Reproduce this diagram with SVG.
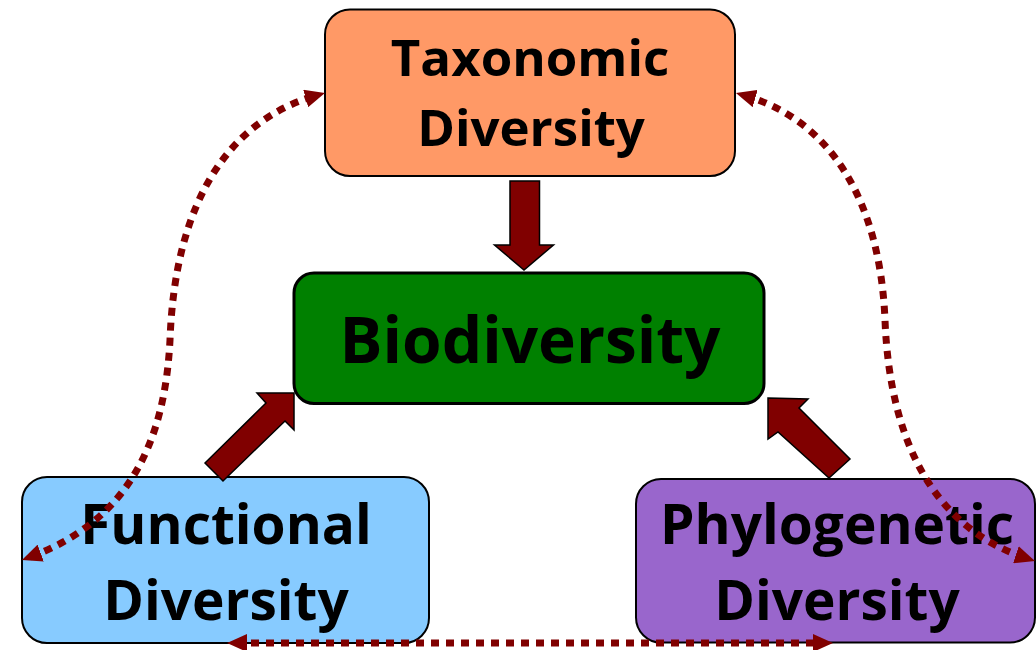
<svg xmlns="http://www.w3.org/2000/svg" width="1036" height="650" viewBox="0 0 1036 650">
<style>
.box{stroke:#000;stroke-width:2}
.lbl{font-family:"Open Sans","Noto Sans","Liberation Sans",sans-serif;font-weight:700;fill:#000;text-anchor:middle}
.blk{fill:#800000;stroke:#000;stroke-width:1.5;stroke-linejoin:miter}
.dot{fill:none;stroke:#800000;stroke-width:7;stroke-dasharray:8 7;marker-start:url(#ah);marker-end:url(#ah)}
</style>
<defs>
<marker id="ah" markerUnits="userSpaceOnUse" markerWidth="20" markerHeight="18" refX="11" refY="9" orient="auto-start-reverse" viewBox="0 0 20 18">
<path d="M0,0 L20,9 L0,18 z" fill="#800000"/>
</marker>
</defs>
<rect width="1036" height="650" fill="#fff"/>
<g id="taxonomic">
<rect class="box" x="325" y="9.5" width="410" height="166.5" rx="25" fill="#FF9966"/>
<text class="lbl" x="530" y="76" font-size="51">Taxonomic</text>
<text class="lbl" x="531" y="146" font-size="51">Diversity</text>
</g>
<g id="biodiversity">
<rect x="294" y="273" width="470" height="130.5" rx="20" fill="#008000" stroke="#000" stroke-width="3"/>
<text class="lbl" x="530" y="363" font-size="64">Biodiversity</text>
</g>
<g id="functional">
<rect class="box" x="22" y="477" width="407" height="166" rx="25" fill="#87CBFF"/>
<text class="lbl" x="226" y="544" font-size="55">Functional</text>
<text class="lbl" x="226" y="620" font-size="55">Diversity</text>
</g>
<g id="phylogenetic">
<rect class="box" x="636" y="479" width="399" height="163.5" rx="25" fill="#9966CC"/>
<text class="lbl" x="837" y="544" font-size="55">Phylogenetic</text>
<text class="lbl" x="837" y="620" font-size="55">Diversity</text>
</g>
<g id="connectors">
<polygon class="blk" points="510,181 539.5,181 539.5,245 553.5,245 524,270 494.5,245 510,245"/>
<polygon class="blk" points="205,463 266,403 257,393 294,393 294,430 285,421 223,481"/>
<polygon class="blk" points="768,398 808,399 799,408 850,459 829,478 778,432 768,439"/>
<path class="dot" d="M30.4,556.9 C130,520 165,440 170,340 C175,200 230,120 316.3,95.5"/>
<path class="dot" d="M744.6,95.5 C830,120 880,200 885,320 C890,450 940,530 1026.4,558.2"/>
<path class="dot" d="M236,643 L824,643"/>
</g>
</svg>
